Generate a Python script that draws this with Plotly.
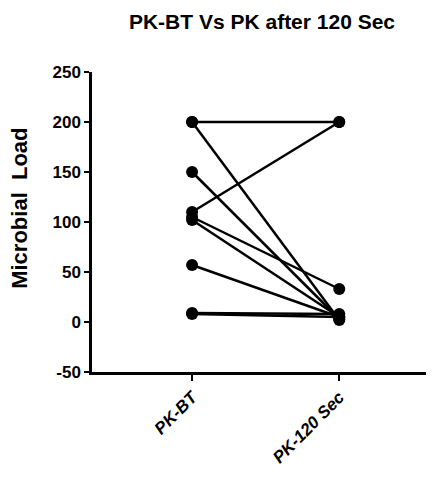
import plotly.graph_objects as go

categories = ["PK-BT", "PK-120 Sec"]
pk_bt = [200, 200, 150, 110, 105, 102, 57, 9, 8]
pk_120 = [200, 2, 3, 200, 33, 5, 5, 8, 5]
y_ticks = [-50, 0, 50, 100, 150, 200, 250]

fig = go.Figure()
for b, a in zip(pk_bt, pk_120):
    fig.add_trace(go.Scatter(
        x=categories, y=[b, a], mode="lines+markers",
        line=dict(color="black", width=2.5),
        marker=dict(color="black", size=12),
        showlegend=False, hoverinfo="y"))

fig.update_layout(
    width=426, height=476,
    margin=dict(l=84, r=2, t=64, b=112),
    paper_bgcolor="white", plot_bgcolor="white",
    title=dict(text="<b>PK-BT Vs PK after 120 Sec</b>", x=0.5, xref="paper",
               xanchor="center", y=0.972, yanchor="middle",
               font=dict(family="Liberation Sans", size=21, color="black")),
    font=dict(family="Liberation Sans", color="black"),
)
fig.add_annotation(
    text="<b>Microbial  Load</b>", textangle=-90, showarrow=False,
    xref="paper", yref="paper", x=-0.212, y=0.547,
    xanchor="center", yanchor="middle",
    font=dict(size=22, family="Liberation Sans", color="black"))
fig.update_xaxes(
    type="category", range=[-0.68, 1.63], showline=True, linecolor="black",
    linewidth=2.5, ticks="outside", ticklen=6, tickwidth=2, tickcolor="black",
    tickangle=-45, tickfont=dict(size=17, family="Liberation Sans"),
    showgrid=False, zeroline=False, automargin=False,
    tickvals=categories, ticktext=["<b><i>" + c + "</i></b>" for c in categories])
fig.update_yaxes(
    range=[-50, 250], tickvals=y_ticks, showline=True, linecolor="black",
    linewidth=2.5, ticks="outside", ticklen=5, tickwidth=2, tickcolor="black",
    tickfont=dict(size=17, family="Liberation Sans"),
    ticktext=["<b>" + str(v) + "</b>" for v in y_ticks],
    showgrid=False, zeroline=False, automargin=False)
fig.write_html("out.html")
